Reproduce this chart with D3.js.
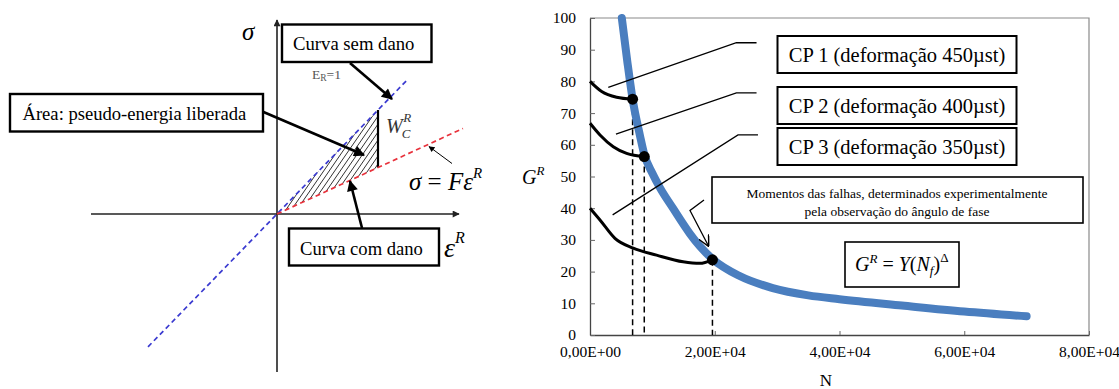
<!DOCTYPE html>
<html><head><meta charset="utf-8">
<script src="https://cdn.jsdelivr.net/npm/d3@7"></script>
<style>
body{margin:0;background:#fff}
svg{display:block}
text{font-family:"Liberation Serif","Times New Roman",serif;fill:#000}
</style></head><body>
<svg id="c" width="1119" height="389"></svg>
<script>
// ---------- Damage curve G^R versus N ----------
const curveN = [5100, 6000, 6830, 8000, 8700, 10000, 11200, 13300, 16000, 17600, 19630, 24000, 29300, 35000, 40000, 50000, 60000, 70000];
const curveG = [100, 86, 74.4, 63, 57, 51, 46.5, 40, 32, 28, 24, 18.6, 14.8, 12.5, 11.3, 9.3, 7.4, 5.9];

// Specimen histories up to failure
const cp1N = [0, 1870, 4270, 6830];
const cp1G = [80, 76.8, 75.0, 74.4];
const cp2N = [0, 1600, 3730, 5870, 8690];
const cp2G = [66.8, 63.1, 59.4, 57.3, 56.3];
const cp3N = [0, 1600, 4000, 6930, 10670, 14930, 17600, 19630];
const cp3G = [40, 36.3, 30.5, 27.4, 25.2, 23.1, 22.6, 23.7];

// Failure points
const failN = [6830, 8700, 19630];
const failG = [74.4, 56.3, 23.7];

// Axis ticks
const xTicks = [0, 20000, 40000, 60000, 80000];
const xTickLabels = ["0,00E+00", "2,00E+04", "4,00E+04", "6,00E+04", "8,00E+04"];
const yTicks = [0, 10, 20, 30, 40, 50, 60, 70, 80, 90, 100];

// Annotation texts
const cpLabels = ["CP 1 (deformação 450µst)", "CP 2 (deformação 400µst)", "CP 3 (deformação 350µst)"];
const noteLines = ["Momentos das falhas, determinados experimentalmente", "pela observação do ângulo de fase"];

// Leader lines for the specimen labels (N, G): start, elbow, end
const leaderN = [[2930, 23470, 26700], [4160, 23470, 26700], [3630, 23730, 26930]];
const leaderG = [[78.1, 92.2, 92.2], [63.4, 76.4, 76.4], [37.9, 63.1, 63.1]];

// ---------- Pseudo stress / pseudo strain schematic ----------
const slopeUndamaged = 1.03;   // E_R = 1
const slopeDamaged = 0.46;     // sigma = F eps^R
const strainEnd = 1.01;        // strain where the released energy is evaluated
const undamagedRange = [-1.29, 1.30];
const damagedRange = [0, 1.86];
const hatchSlope = 1.45;
const hatchOffsets = d3.range(-0.05, 0.75, 0.055);

const svg = d3.select("#c");

// =============== LEFT: schematic ===============
const ex = d3.scaleLinear().domain([0, 1]).range([277, 377]);
const sy = d3.scaleLinear().domain([0, 1]).range([214, 114]);

const defs = svg.append("defs");
defs.append("marker").attr("id", "headBig").attr("viewBox", "0 0 10 10")
  .attr("refX", 9).attr("refY", 5).attr("markerWidth", 13).attr("markerHeight", 11)
  .attr("markerUnits", "userSpaceOnUse").attr("orient", "auto")
  .append("path").attr("d", "M0,0 L10,5 L0,10 Z").attr("fill", "#000");
defs.append("marker").attr("id", "headSmall").attr("viewBox", "0 0 10 10")
  .attr("refX", 9).attr("refY", 5).attr("markerWidth", 8).attr("markerHeight", 6)
  .attr("markerUnits", "userSpaceOnUse").attr("orient", "auto")
  .append("path").attr("d", "M0,0 L10,5 L0,10 Z").attr("fill", "#000");
defs.append("marker").attr("id", "headAxis").attr("viewBox", "0 0 10 10")
  .attr("refX", 9).attr("refY", 5).attr("markerWidth", 8).attr("markerHeight", 7)
  .attr("markerUnits", "userSpaceOnUse").attr("orient", "auto")
  .append("path").attr("d", "M0,0 L10,5 L0,10 Z").attr("fill", "#222");
defs.append("marker").attr("id", "headOpen").attr("viewBox", "0 0 10 10")
  .attr("refX", 9.5).attr("refY", 5).attr("markerWidth", 11).attr("markerHeight", 11)
  .attr("markerUnits", "userSpaceOnUse").attr("orient", "auto")
  .append("path").attr("d", "M0,0 L10,5 L0,10").attr("fill", "none").attr("stroke", "#000").attr("stroke-width", 1.3);

const L = svg.append("g");

// axes
L.append("line").attr("x1", ex(-1.86)).attr("y1", sy(0)).attr("x2", ex(1.82)).attr("y2", sy(0))
  .attr("stroke", "#222").attr("stroke-width", 1.6).attr("marker-end", "url(#headAxis)");
L.append("line").attr("x1", ex(0)).attr("y1", sy(-1.58)).attr("x2", ex(0)).attr("y2", sy(1.94))
  .attr("stroke", "#222").attr("stroke-width", 1.6).attr("marker-end", "url(#headAxis)");

// hatched area between the two curves
const clip = defs.append("clipPath").attr("id", "hatchClip");
clip.append("polygon").attr("points", [
  [ex(0), sy(0)], [ex(strainEnd), sy(slopeUndamaged * strainEnd)], [ex(strainEnd), sy(slopeDamaged * strainEnd)]
].map(p => p.join(",")).join(" "));
L.append("g").attr("clip-path", "url(#hatchClip)").selectAll("line").data(hatchOffsets).join("line")
  .attr("x1", c => ex(c - 0.5)).attr("y1", c => sy(hatchSlope * (-0.5)))
  .attr("x2", c => ex(c + 1.5)).attr("y2", c => sy(hatchSlope * 1.5))
  .attr("stroke", "#333").attr("stroke-width", 1);

L.append("line").attr("x1", ex(strainEnd)).attr("y1", sy(slopeUndamaged * strainEnd))
  .attr("x2", ex(strainEnd)).attr("y2", sy(slopeDamaged * strainEnd))
  .attr("stroke", "#000").attr("stroke-width", 2.2);

// E_R = 1 line and damaged line
L.append("line")
  .attr("x1", ex(undamagedRange[0])).attr("y1", sy(slopeUndamaged * undamagedRange[0]))
  .attr("x2", ex(undamagedRange[1])).attr("y2", sy(slopeUndamaged * undamagedRange[1]))
  .attr("stroke", "#3a3ad0").attr("stroke-width", 1.7).attr("stroke-dasharray", "5,3.5");
L.append("line")
  .attr("x1", ex(damagedRange[0])).attr("y1", sy(slopeDamaged * damagedRange[0]))
  .attr("x2", ex(damagedRange[1])).attr("y2", sy(slopeDamaged * damagedRange[1]))
  .attr("stroke", "#e8323c").attr("stroke-width", 1.7).attr("stroke-dasharray", "5,3.5");

// boxed labels
function box(g, x0, y0, x1, y1, sw) {
  g.append("rect").attr("x", x0).attr("y", y0).attr("width", x1 - x0).attr("height", y1 - y0)
    .attr("fill", "#fff").attr("stroke", "#000").attr("stroke-width", sw);
}
box(L, 282, 24.5, 431.5, 62, 2.4);
L.append("text").attr("x", 293).attr("y", 50).attr("font-size", 18.7).text("Curva sem dano");
box(L, 10, 94, 263, 131.5, 2.4);
L.append("text").attr("x", 22.5).attr("y", 119.5).attr("font-size", 18.6).text("Área: pseudo-energia liberada");
box(L, 289, 228.5, 439, 265.5, 2.4);
L.append("text").attr("x", 300).attr("y", 254.5).attr("font-size", 18.6).text("Curva com dano");

// arrows
L.append("line").attr("x1", 350).attr("y1", 63).attr("x2", 392).attr("y2", 99)
  .attr("stroke", "#000").attr("stroke-width", 2.6).attr("marker-end", "url(#headBig)");
L.append("line").attr("x1", 263.5).attr("y1", 112).attr("x2", 364).attr("y2", 155)
  .attr("stroke", "#000").attr("stroke-width", 2.6).attr("marker-end", "url(#headBig)");
L.append("line").attr("x1", 362).attr("y1", 228).attr("x2", 350).attr("y2", 181)
  .attr("stroke", "#000").attr("stroke-width", 2.6).attr("marker-end", "url(#headBig)");
L.append("line").attr("x1", 452).attr("y1", 163.5).attr("x2", 429).attr("y2", 146.5)
  .attr("stroke", "#000").attr("stroke-width", 1).attr("marker-end", "url(#headSmall)");

// symbols
L.append("text").attr("x", 242).attr("y", 40).attr("font-size", 25).attr("font-style", "italic").text("σ");
const er = L.append("text").attr("x", 312).attr("y", 79).attr("font-size", 13.5).style("fill", "#555");
er.append("tspan").text("E");
er.append("tspan").attr("font-size", 9.5).attr("dy", 1.5).text("R");
er.append("tspan").attr("dy", -1.5).text("=1");
const wc = L.append("text").attr("x", 386).attr("y", 133).attr("font-size", 20)
  .attr("font-style", "italic").style("fill", "#333");
wc.append("tspan").text("W");
wc.append("tspan").attr("font-size", 13).attr("dx", -1).attr("dy", 5).text("C");
wc.append("tspan").attr("font-size", 13).attr("dx", -7).attr("dy", -16).text("R");
const fe = L.append("text").attr("x", 409).attr("y", 190).attr("font-size", 25);
fe.append("tspan").attr("font-style", "italic").text("σ");
fe.append("tspan").text(" = ");
fe.append("tspan").attr("font-style", "italic").text("Fε");
fe.append("tspan").attr("font-style", "italic").attr("font-size", 15).attr("dy", -12).text("R");
const eR = L.append("text").attr("x", 444).attr("y", 257).attr("font-size", 28).attr("font-style", "italic");
eR.append("tspan").text("ε");
eR.append("tspan").attr("font-size", 16).attr("dy", -14).text("R");

// =============== RIGHT: G^R vs N ===============
const x = d3.scaleLinear().domain([0, 80000]).range([590, 1089]);
const y = d3.scaleLinear().domain([0, 100]).range([335, 18]);
const R = svg.append("g");

// frame
R.append("path").attr("d", `M${x(0)},${y(100)}H${x(80000)}V${y(0)}`)
  .attr("fill", "none").attr("stroke", "#8a8a8a").attr("stroke-width", 1.2);

const xAxis = R.append("g").attr("transform", `translate(0,${y(0)})`)
  .call(d3.axisBottom(x).tickValues(xTicks).tickFormat((d, i) => xTickLabels[i])
    .tickSize(-4).tickSizeOuter(0).tickPadding(11));
const yAxis = R.append("g").attr("transform", `translate(${x(0)},0)`)
  .call(d3.axisLeft(y).tickValues(yTicks).tickSize(-5).tickSizeOuter(0).tickPadding(14));
[xAxis, yAxis].forEach(a => {
  a.attr("font-family", null).attr("font-size", null);
  a.select(".domain").attr("stroke", "#444").attr("stroke-width", 1.3);
  a.selectAll(".tick line").attr("stroke", "#666");
  a.selectAll(".tick text").style("font-family", "'Liberation Serif', serif").style("font-size", "15.5px").style("fill", "#000");
});

// failure lines
R.selectAll(".fail").data(failN).join("line").attr("class", "fail")
  .attr("x1", d => x(d)).attr("x2", d => x(d))
  .attr("y1", (d, i) => y(failG[i])).attr("y2", y(0))
  .attr("stroke", "#000").attr("stroke-width", 1.5).attr("stroke-dasharray", "6,4");

// fitted damage curve
const line = d3.line().x(d => x(d[0])).y(d => y(d[1])).curve(d3.curveMonotoneX);
R.append("path").datum(d3.zip(curveN, curveG)).attr("d", line)
  .attr("fill", "none").attr("stroke", "#4a7ebf").attr("stroke-width", 8).attr("stroke-linecap", "round");

// specimen histories
[[cp1N, cp1G], [cp2N, cp2G], [cp3N, cp3G]].forEach(([n, g]) => {
  R.append("path").datum(d3.zip(n, g)).attr("d", line)
    .attr("fill", "none").attr("stroke", "#000").attr("stroke-width", 3);
});
R.selectAll(".dot").data(failN).join("circle").attr("class", "dot")
  .attr("cx", d => x(d)).attr("cy", (d, i) => y(failG[i])).attr("r", 5.5).attr("fill", "#000");

// leader lines
leaderN.forEach((ns, i) => {
  R.append("path").datum(d3.zip(ns, leaderG[i]))
    .attr("d", d3.line().x(d => x(d[0])).y(d => y(d[1])))
    .attr("fill", "none").attr("stroke", "#000").attr("stroke-width", 1.3);
});

// specimen labels
const boxTop = [36, 87, 128];
cpLabels.forEach((t, i) => {
  box(R, 777.5, boxTop[i], 1016.5, boxTop[i] + 37, 2);
  R.append("text").attr("x", 897).attr("y", boxTop[i] + 25.5).attr("text-anchor", "middle")
    .attr("font-size", 20.5).text(t);
});

// failure note and its arrow
box(R, 712, 177, 1083, 223, 1.6);
noteLines.forEach((t, i) => {
  R.append("text").attr("x", 897).attr("y", 197.5 + i * 18.5).attr("text-anchor", "middle")
    .attr("font-size", 13.5).text(t);
});
R.append("polyline").attr("points", "704,200 690,210.5 708.5,246")
  .attr("fill", "none").attr("stroke", "#000").attr("stroke-width", 1.3).attr("marker-end", "url(#headOpen)");

// model equation
box(R, 845, 242, 959, 287, 1.6);
const eq = R.append("text").attr("x", 855).attr("y", 271).attr("font-size", 20)
  .attr("font-family", "DejaVu Serif, serif");
eq.append("tspan").attr("font-style", "italic").text("G");
eq.append("tspan").attr("font-style", "italic").attr("font-size", 13).attr("dy", -8).text("R");
eq.append("tspan").attr("dy", 8).text(" = ");
eq.append("tspan").attr("font-style", "italic").text("Y");
eq.append("tspan").text("(");
eq.append("tspan").attr("font-style", "italic").text("N");
eq.append("tspan").attr("font-style", "italic").attr("font-size", 13).attr("dy", 4).text("f");
eq.append("tspan").attr("dy", -4).text(")");
eq.append("tspan").attr("font-size", 13).attr("dy", -9).text("Δ");

// axis titles
const gt = R.append("text").attr("x", 522).attr("y", 184).attr("font-size", 20)
  .attr("font-family", "DejaVu Serif, serif").attr("font-style", "italic");
gt.append("tspan").text("G");
gt.append("tspan").attr("font-size", 13).attr("dy", -9).text("R");
R.append("text").attr("x", 826).attr("y", 386).attr("text-anchor", "middle").attr("font-size", 17).text("N");
</script>
</body></html>
